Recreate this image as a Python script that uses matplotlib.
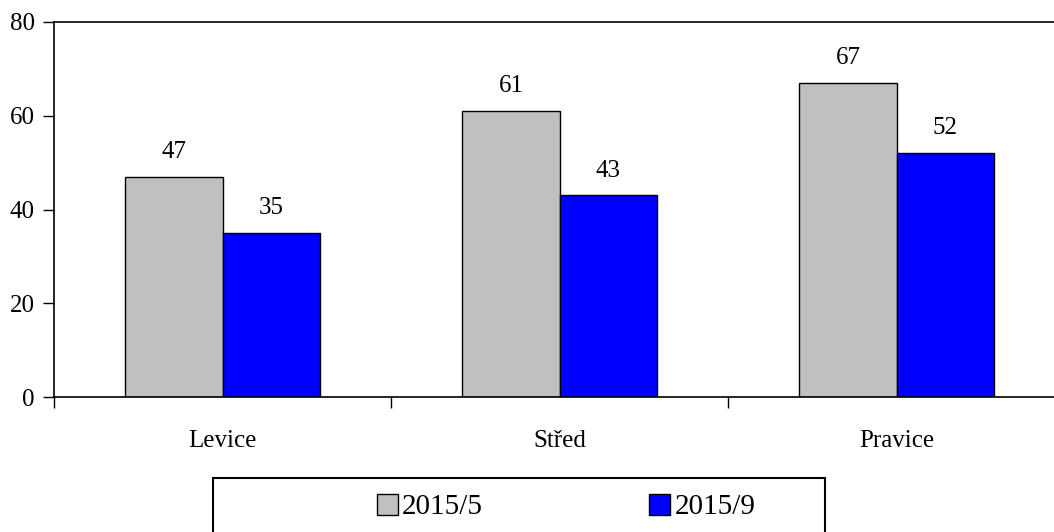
import matplotlib.pyplot as plt
from matplotlib.patches import Rectangle
import numpy as np

kategorie = ["Levice", "Střed", "Pravice"]
serie_1 = [47, 61, 67]
serie_2 = [35, 43, 52]
nazvy = ["2015/5", "2015/9"]

plt.rcParams['font.family'] = ['Liberation Serif', 'DejaVu Serif']

fig = plt.figure(figsize=(10.54, 5.32), dpi=100)
ax = fig.add_axes([54 / 1054, 1 - 397 / 532, 1011 / 1054, 375 / 532])

x = np.arange(len(kategorie))
w = 0.288
b1 = ax.bar(x - w / 2, serie_1, w, color="#C0C0C0", edgecolor="black", linewidth=1, label=nazvy[0])
b2 = ax.bar(x + w / 2, serie_2, w, color="#0000FF", edgecolor="black", linewidth=1, label=nazvy[1])

for bars, vals in [(b1, serie_1), (b2, serie_2)]:
    for r, v in zip(bars, vals):
        ax.annotate(str(v), (r.get_x() + r.get_width() / 2, v), xytext=(0, 10),
                    textcoords="offset points", ha="center", va="bottom", fontsize=18)

ax.set_xlim(-0.5, 2.5)
ax.set_ylim(0, 80)
ax.set_yticks(range(0, 81, 20))
ax.set_xticks([-0.5, 0.5, 1.5, 2.5])
ax.set_xticklabels([])
ax.set_xticks(x, minor=True)
ax.set_xticklabels(kategorie, minor=True, fontsize=18)
ax.tick_params(axis="x", which="minor", length=0, pad=24)
ax.tick_params(axis="x", which="major", length=8, direction="out", width=1)
ax.tick_params(axis="y", length=8, direction="out", width=1, labelsize=18, pad=6)
ax.spines["right"].set_visible(False)
for s in ["left", "bottom", "top"]:
    ax.spines[s].set_linewidth(1.2)

# ramecek legendy
fig.patches.append(Rectangle((213 / 1054, -0.05), 612 / 1054, 0.05 + 54 / 532,
                             transform=fig.transFigure, fill=False, edgecolor="black", linewidth=1.5))
fig.legend(handles=[b1, b2], labels=nazvy, loc="center left",
           bbox_to_anchor=(377 / 1054, 1 - 507 / 532), ncol=2, frameon=False,
           fontsize=21, handlelength=0.72, handleheight=0.72, handletextpad=0.14,
           columnspacing=5.7, borderaxespad=0, borderpad=0)

fig.savefig("out.png", dpi=100)
